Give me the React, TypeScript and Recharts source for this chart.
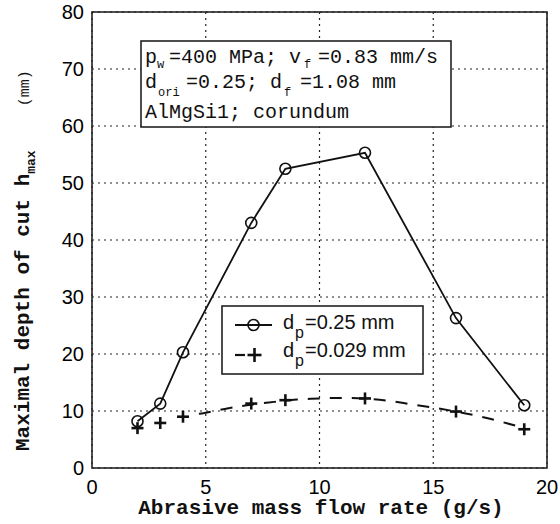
import React from "react";
import { ComposedChart, Line, XAxis, YAxis, CartesianGrid } from "recharts";

// Abrasive mass flow rate (g/s)
const flowCoarse = [2, 3, 4, 7, 8.5, 12, 16, 19];
// Maximal depth of cut for d_p = 0.25 mm
const depthCoarse = [8.2, 11.3, 20.3, 43.0, 52.5, 55.3, 26.3, 11.0];

const flowFine = [2, 3, 4, 7, 8.5, 12, 16, 19];
// Maximal depth of cut for d_p = 0.029 mm
const depthFine = [7.0, 7.9, 9.0, 11.3, 11.9, 12.2, 9.9, 6.8];

// Trend curve through the d_p = 0.029 mm points
const trendFlow = [4.7, 5, 6, 7, 8, 9, 10, 11, 12, 13, 14, 15, 16, 17, 18, 19];
const trendDepth = [9.5, 9.7, 10.5, 11.1, 11.6, 12.0, 12.2, 12.3, 12.2, 11.8, 11.2, 10.6, 9.9, 9.1, 8.1, 7.0];

const xTicks = [0, 5, 10, 15, 20];
const yTicks = [0, 10, 20, 30, 40, 50, 60, 70, 80];

const coarseData = flowCoarse.map((x, i) => ({ x, y: depthCoarse[i] }));
const fineData = flowFine.map((x, i) => ({ x, y: depthFine[i] }));
const trendData = trendFlow.map((x, i) => ({ x, y: trendDepth[i] }));

const W = 560;
const H = 524;
const PL = 92, PT = 12, PR = 547, PB = 468;

const mono = "'Liberation Mono', 'Courier New', monospace";
const sans = "'Liberation Sans', Arial, sans-serif";

const CircleDot = (props: any) => {
  const { cx, cy, index } = props;
  if (cx == null || cy == null) return <g key={index} />;
  return <circle key={index} cx={cx} cy={cy} r={5.5} fill="none" stroke="#111" strokeWidth={1.6} />;
};

const PlusDot = (props: any) => {
  const { cx, cy, index } = props;
  if (cx == null || cy == null) return <g key={index} />;
  return (
    <g key={index}>
      <line x1={cx - 6} y1={cy} x2={cx + 6} y2={cy} stroke="#111" strokeWidth={2.6} />
      <line x1={cx} y1={cy - 6} x2={cx} y2={cy + 6} stroke="#111" strokeWidth={2.6} />
    </g>
  );
};

export default function App() {
  return (
    <div style={{ position: "absolute", left: 0, top: 0, width: W, height: H, background: "#fff" }}>
      <ComposedChart
        width={W}
        height={H}
        margin={{ top: PT, right: W - PR, left: 0, bottom: 0 }}
      >
        <CartesianGrid
          stroke="#222"
          strokeDasharray="2 4"
          strokeWidth={1.2}
          horizontalValues={yTicks}
          verticalValues={xTicks}
        />
        <XAxis
          dataKey="x"
          type="number"
          domain={[0, 20]}
          ticks={xTicks}
          allowDuplicatedCategory={false}
          height={H - PB}
          tickLine={false}
          axisLine={false}
          tickSize={0}
          tickMargin={12}
          tick={{ fill: "#000", fontSize: 20, fontFamily: sans }}
          interval={0}
        />
        <YAxis
          type="number"
          domain={[0, 80]}
          ticks={yTicks}
          width={PL}
          tickLine={false}
          axisLine={false}
          tickSize={0}
          tickMargin={8}
          tick={{ fill: "#000", fontSize: 20, fontFamily: sans }}
          interval={0}
        />
        <Line
          data={trendData}
          dataKey="y"
          type="natural"
          stroke="#111"
          strokeWidth={2}
          strokeDasharray="12 10"
          dot={false}
          activeDot={false}
          isAnimationActive={false}
        />
        <Line
          data={coarseData}
          dataKey="y"
          type="linear"
          stroke="#111"
          strokeWidth={1.8}
          dot={CircleDot}
          activeDot={false}
          isAnimationActive={false}
        />
        <Line
          data={fineData}
          dataKey="y"
          type="linear"
          stroke="none"
          strokeWidth={0}
          dot={PlusDot}
          activeDot={false}
          isAnimationActive={false}
        />
      </ComposedChart>
      <svg
        width={W}
        height={H}
        style={{ position: "absolute", left: 0, top: 0, pointerEvents: "none" }}
      >
        {/* plot frame */}
        <rect x={PL} y={PT} width={PR - PL} height={PB - PT} fill="none" stroke="#222" strokeWidth={1.6} />

        {/* parameter box */}
        <rect x={141} y={41} width={310} height={86} fill="#fff" stroke="#222" strokeWidth={1.6} />
        <text fontFamily={mono} fontSize={20} fill="#111">
          <tspan x={145} y={63}>p</tspan>
          <tspan x={157} y={68} fontSize={12}>w</tspan>
          <tspan x={169} y={63}>=400 MPa; v</tspan>
          <tspan x={304} y={68} fontSize={12}>f</tspan>
          <tspan x={318} y={63}>=0.83 mm/s</tspan>
        </text>
        <text fontFamily={mono} fontSize={20} fill="#111">
          <tspan x={145} y={88}>d</tspan>
          <tspan x={158} y={96} fontSize={12}>ori</tspan>
          <tspan x={186} y={88}>=0.25; d</tspan>
          <tspan x={284} y={96} fontSize={12}>f</tspan>
          <tspan x={300} y={88}>=1.08 mm</tspan>
        </text>
        <text x={145} y={118} fontFamily={mono} fontSize={20} fill="#111">AlMgSi1; corundum</text>

        {/* legend */}
        <rect x={222} y={306} width={201} height={68} fill="#fff" stroke="#222" strokeWidth={1.6} />
        <line x1={235} y1={325} x2={272} y2={325} stroke="#111" strokeWidth={1.8} />
        <circle cx={253.5} cy={325} r={5.5} fill="none" stroke="#111" strokeWidth={1.6} />
        <text fontFamily={sans} fontSize={20} fill="#111">
          <tspan x={283} y={329}>d</tspan>
          <tspan x={295} y={338} fontSize={16}>p</tspan>
          <tspan x={305} y={329}>=0.25 mm</tspan>
        </text>
        <line x1={235} y1={355} x2={245} y2={355} stroke="#111" strokeWidth={2.2} />
        <line x1={247.5} y1={355} x2={261.5} y2={355} stroke="#111" strokeWidth={2.6} />
        <line x1={254.5} y1={348} x2={254.5} y2={362} stroke="#111" strokeWidth={2.6} />
        <text fontFamily={sans} fontSize={20} fill="#111">
          <tspan x={283} y={357}>d</tspan>
          <tspan x={295} y={366} fontSize={16}>p</tspan>
          <tspan x={305} y={357}>=0.029 mm</tspan>
        </text>

        {/* axis titles */}
        <text x={321} y={514} textAnchor="middle" fontFamily={mono} fontSize={21} fontWeight="bold" fill="#111">
          Abrasive mass flow rate (g/s)
        </text>
        <text transform="translate(29,451) rotate(-90)" fontFamily={mono} fontSize={21} fontWeight="bold" fill="#111">
          <tspan x={0} y={0}>Maximal depth of cut h</tspan>
          <tspan dy={6} fontSize={13}>max</tspan>
          <tspan dy={-6} dx={44} fontSize={15} fontWeight="normal">(mm)</tspan>
        </text>
      </svg>
    </div>
  );
}
